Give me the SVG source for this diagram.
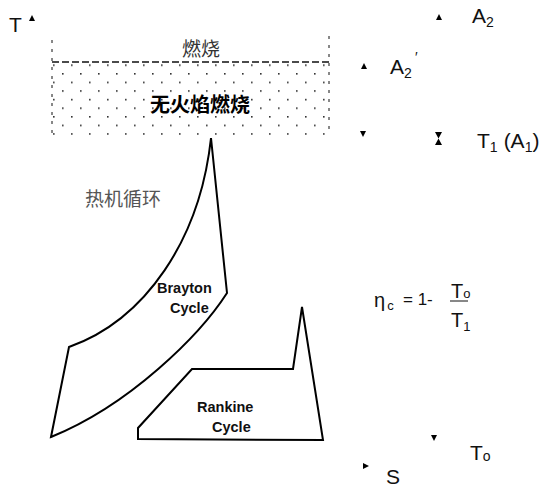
<svg xmlns="http://www.w3.org/2000/svg" width="550" height="487" viewBox="0 0 550 487">
<style>
.lbl{font-family:"Liberation Sans",Arial,sans-serif;fill:#111;}
.cjk{font-family:"Noto Sans CJK SC","Liberation Serif",serif;}
.cyc{fill:none;stroke:#000;stroke-width:2;stroke-linejoin:miter;}
.tri{fill:#000;}
.cl{font-family:"Liberation Sans",Arial,sans-serif;font-weight:bold;font-size:14.5px;fill:#111;}
</style>
<defs>
<pattern id="dots" x="62" y="73" width="18" height="17.2" patternUnits="userSpaceOnUse">
<rect x="0" y="0" width="1.6" height="1.6" fill="#333"/>
<rect x="9" y="8.6" width="1.6" height="1.6" fill="#333"/>
</pattern>
</defs>
<rect width="550" height="487" fill="#fff"/>

<g id="axis-marks">
<text class="lbl" x="9" y="32" font-size="21">T</text>
<polygon class="tri" points="32,15 29,21 35,21"/>
<polygon class="tri" points="439,14 436,20 442,20"/>
<polygon class="tri" points="364,63 361,69 367,69"/>
<polygon class="tri" points="363,137 360,131 366,131"/>
<polygon class="tri" points="435,132 442,132 438.5,138.5 442,145 435,145 438.5,138.5"/>
<polygon class="tri" points="434,441 431,435 437,435"/>
<polygon class="tri" points="369,466 363,463 363,469"/>
<text class="lbl" x="386" y="484" font-size="21">S</text>
</g>

<g id="labels-right">
<text class="lbl" x="472" y="23" font-size="21">A<tspan font-size="14" dy="4">2</tspan></text>
<text class="lbl" x="390" y="74" font-size="21">A<tspan font-size="14" dy="4">2</tspan></text>
<text class="lbl" x="415" y="62" font-size="14">′</text>
<text class="lbl" x="477" y="148" font-size="21">T<tspan font-size="14" dy="4">1</tspan><tspan dy="-4" dx="6">(A</tspan><tspan font-size="14" dy="4">1</tspan><tspan dy="-4">)</tspan></text>
<text class="lbl" x="470" y="460" font-size="21">T<tspan font-size="14" dy="1">o</tspan></text>
</g>

<g id="combustion-box">
<rect x="52" y="62" width="277" height="73" fill="url(#dots)"/>
<line x1="52" y1="62" x2="329" y2="62" stroke="#111" stroke-width="1.5" stroke-dasharray="7,3"/>
<line x1="52" y1="40" x2="52" y2="135" stroke="#111" stroke-width="1" stroke-dasharray="3,6"/>
<line x1="329" y1="36" x2="329" y2="135" stroke="#111" stroke-width="1" stroke-dasharray="3,6"/>
<text class="cjk" x="182" y="56" font-size="19" fill="#333">燃烧</text>
<text class="cjk" x="150" y="112" font-size="20" font-weight="bold" fill="#000">无火焰燃烧</text>
</g>

<g id="heat-engine-label">
<text class="cjk" x="85" y="206" font-size="19" fill="#555">热机循环</text>
</g>

<g id="brayton">
<path class="cyc" d="M211,138 L227,293 C200,335 130,405 51,437 L69,347 C145,320 200,240 211,138 Z"/>
<text class="cl" x="157" y="293">Brayton</text>
<text class="cl" x="170" y="313">Cycle</text>
</g>

<g id="rankine">
<path class="cyc" d="M192,369 L293,369 L302,307 L323,440 L138,439 L138,428 Z"/>
<text class="cl" x="197" y="412">Rankine</text>
<text class="cl" x="212" y="432">Cycle</text>
</g>

<g id="formula">
<text class="lbl" x="374" y="307" font-size="20">η<tspan font-size="13" dy="3" dx="2">c</tspan></text>
<text class="lbl" x="403" y="305" font-size="17">= 1-</text>
<text class="lbl" x="451" y="298" font-size="20">T<tspan font-size="13" dy="0">o</tspan></text>
<line x1="450" y1="301" x2="468" y2="301" stroke="#111" stroke-width="1"/>
<text class="lbl" x="451" y="327" font-size="20">T<tspan font-size="13" dy="4">1</tspan></text>
</g>
</svg>
